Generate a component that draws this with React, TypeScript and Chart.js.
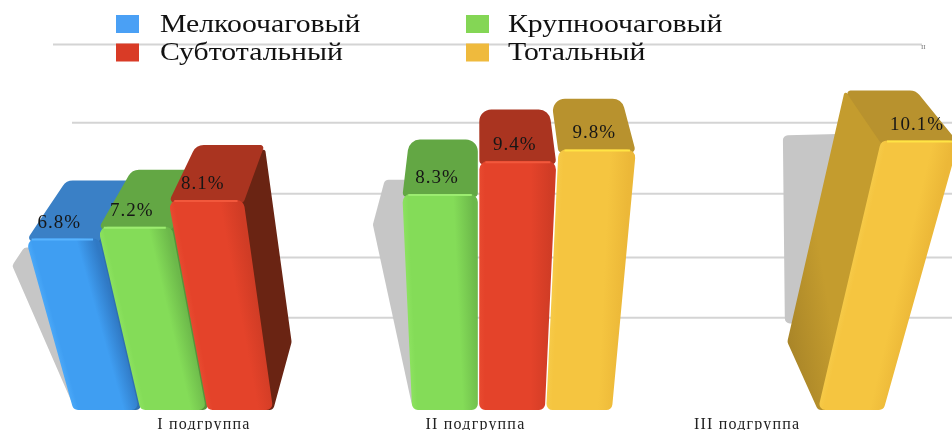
import React, { useEffect, useRef } from "react";
import { Chart, registerables } from "chart.js";

Chart.register(...registerables);

const categories = ["I подгруппа", "II подгруппа", "III подгруппа"];
const melko = [6.8, null, null];
const krupno = [7.2, 8.3, null];
const subtotal = [8.1, 9.4, null];
const total = [null, 9.8, 10.1];
const gridValues = [11.78, 8.92, 6.32, 3.98, 1.78];

const FONT = '"Liberation Serif", "Times New Roman", serif';

type Palette = { main: string; light: string; edge: string; top: string; side: string; sideLight: string; hi: string };
const PAL: Record<string, Palette> = {
  blue: { main: "#3f9ef2", light: "#4aa8f8", edge: "#3079c4", top: "#3a80c6", side: "#2f70b0", sideLight: "#3479bd", hi: "#58b4ff" },
  green: { main: "#84dc58", light: "#8ce25f", edge: "#6cb84a", top: "#63a744", side: "#56953a", sideLight: "#5ea040", hi: "#9cec70" },
  red: { main: "#e4432a", light: "#e84a30", edge: "#d03c25", top: "#aa3420", side: "#6a2413", sideLight: "#6f2616", hi: "#f2583c" },
  yellow: { main: "#f5c540", light: "#f6ca48", edge: "#ecb838", top: "#b8922e", side: "#a98528", sideLight: "#c49c2e", hi: "#ffe445" },
};
const PAL_KEYS = ["blue", "green", "red", "yellow"];

// perspective parameters of the 3D look (vanishing column, taper per pixel of height, depth)
const VX = 478;
const TAPER = 0.00069;
const BACK = 0.91;
const BACK_BASE_RISE = 68;

type Pt = [number, number];

function poly(ctx: CanvasRenderingContext2D, pts: Pt[], radii: number[]) {
  const n = pts.length;
  const mid = (a: Pt, b: Pt): Pt => [(a[0] + b[0]) / 2, (a[1] + b[1]) / 2];
  const s = mid(pts[n - 1], pts[0]);
  ctx.beginPath();
  ctx.moveTo(s[0], s[1]);
  for (let i = 0; i < n; i++) {
    const p = pts[i];
    const q = pts[(i + 1) % n];
    ctx.arcTo(p[0], p[1], q[0], q[1], radii[i]);
  }
  ctx.closePath();
}

function geom(left: number, right: number, yBack: number, bottom: number) {
  const depth = 58 - (180 - yBack) * 0.088;
  const yFront = yBack + depth;
  const h = bottom - yFront;
  const grow = (x: number) => VX + (x - VX) * (1 + TAPER * h);
  const back = (x: number) => VX + (x - VX) * BACK;
  const ftl = grow(left);
  const ftr = grow(right);
  return {
    yFront,
    yBack,
    ftl,
    ftr,
    btl: back(ftl),
    btr: back(ftr),
    bbl: back(left),
    bbr: back(right),
    backBaseY: bottom - BACK_BASE_RISE,
  };
}

const scene3d = {
  id: "scene3d",
  beforeDraw(chart: any) {
    (chart.ctx as any).letterSpacing = "1.2px";
  },
  beforeDatasetsDraw(chart: any) {
    const { ctx, chartArea, width } = chart;
    const yScale = chart.scales.y;
    const bottom = chartArea.bottom;
    (ctx as any).letterSpacing = "0px";

    // grid lines
    ctx.save();
    yScale.ticks.forEach((t: any) => {
      const y = yScale.getPixelForValue(t.value);
      const isTop = t.value === gridValues[0];
      const x0 = isTop ? chartArea.left - 18 : chartArea.left + 1;
      const x1 = isTop ? chartArea.right + 36 : width;
      ctx.strokeStyle = "#d4d4d4";
      ctx.lineWidth = 2;
      ctx.beginPath();
      ctx.moveTo(x0, y);
      ctx.lineTo(x1, y);
      ctx.stroke();
    });
    ctx.restore();

    // soft floor shadows behind the first bar of every group
    const seen = new Set<number>();
    ctx.save();
    ctx.fillStyle = "#c6c6c6";
    chart.data.datasets.forEach((ds: any, di: number) => {
      const meta = chart.getDatasetMeta(di);
      meta.data.forEach((el: any, idx: number) => {
        if (ds.data[idx] == null || seen.has(idx)) return;
        seen.add(idx);
        const left = el.x - el.width / 2;
        const leftOfV = left < VX;
        const sx = left - 35 - Math.max(0, VX - left) * 0.065;
        const pts: Pt[] = leftOfV
          ? [
              [left, bottom - 4],
              [sx, el.y + 85],
              [sx + 12, el.y + 35 + (32 * (VX - left)) / 405],
              [left + 40, el.y + 35 + (32 * (VX - left)) / 405],
              [left + 40, bottom - 4],
            ]
          : [
              [sx + 2, el.y + 233],
              [sx, el.y + 45],
              [left + 45, el.y + 43],
              [left + 45, el.y + 233],
            ];
        poly(ctx, pts, pts.map(() => 5));
        ctx.fill();
      });
    });
    ctx.restore();

    // bars
    chart.data.datasets.forEach((ds: any, di: number) => {
      const meta = chart.getDatasetMeta(di);
      const pal = PAL[PAL_KEYS[di]];
      meta.data.forEach((el: any, idx: number) => {
        if (ds.data[idx] == null) return;
        const l = el.x - el.width / 2;
        const r = el.x + el.width / 2;
        const g = geom(l, r, el.y, bottom);
        const rightSide = r < VX - 100;
        const leftSide = l > VX + 100;

        // side face
        if (rightSide) {
          ctx.fillStyle = pal.side;
          poly(
            ctx,
            [
              [g.ftr - 6, g.yFront],
              [g.btr, g.yBack],
              [g.bbr, g.backBaseY],
              [r, bottom],
              [r - 12, bottom],
            ],
            [2, 2, 6, 5, 2]
          );
          ctx.fill();
        } else if (leftSide) {
          poly(
            ctx,
            [
              [g.ftl + 6, g.yFront],
              [g.btl, g.yBack],
              [g.bbl, g.backBaseY],
              [l, bottom],
              [l + 12, bottom],
            ],
            [2, 2, 6, 5, 2]
          );
          const grad = ctx.createLinearGradient(g.bbl, g.backBaseY, l + 16, g.backBaseY - 8);
          grad.addColorStop(0, pal.side);
          grad.addColorStop(1, pal.sideLight);
          ctx.fillStyle = grad;
          ctx.fill();
        }

        // top face
        ctx.fillStyle = pal.top;
        poly(
          ctx,
          [
            [g.btl, g.yBack],
            [g.btr, g.yBack],
            [g.ftr, g.yFront + 3],
            [g.ftl, g.yFront + 3],
          ],
          [leftSide ? 3 : 12, rightSide ? 3 : 12, 4, 4]
        );
        ctx.fill();

        // front face with a shading across its width
        const ex = g.ftl - l;
        const ey = g.yFront - bottom;
        const len = Math.hypot(ex, ey);
        const nx = -ey / len;
        const ny = ex / len;
        const midW = ((g.ftr - g.ftl + (r - l)) / 2) * Math.abs(nx);
        const mx = (g.ftl + l) / 2;
        const my = (g.yFront + bottom) / 2;
        const grad = ctx.createLinearGradient(mx, my, mx + nx * midW, my + ny * midW);
        grad.addColorStop(0, pal.light);
        grad.addColorStop(0.08, pal.main);
        grad.addColorStop(0.72, pal.main);
        grad.addColorStop(1, pal.edge);
        ctx.fillStyle = grad;
        poly(
          ctx,
          [
            [g.ftl, g.yFront],
            [g.ftr, g.yFront],
            [r, bottom],
            [l, bottom],
          ],
          [8, 8, 6, 6]
        );
        ctx.fill();

        // highlight along the top front edge
        ctx.strokeStyle = pal.hi;
        ctx.lineWidth = 2;
        ctx.beginPath();
        ctx.moveTo(g.ftl + 6, g.yFront + 1);
        ctx.lineTo(g.ftr - 6, g.yFront + 1);
        ctx.stroke();
      });
    });
    (ctx as any).letterSpacing = "1.2px";
  },
  afterDatasetsDraw(chart: any) {
    const { ctx, chartArea } = chart;
    const bottom = chartArea.bottom;
    ctx.save();
    // value labels on the top faces
    ctx.fillStyle = "#161616";
    ctx.font = `19px ${FONT}`;
    (ctx as any).letterSpacing = "1px";
    ctx.textAlign = "center";
    ctx.textBaseline = "middle";
    chart.data.datasets.forEach((ds: any, di: number) => {
      chart.getDatasetMeta(di).data.forEach((el: any, idx: number) => {
        const v = ds.data[idx];
        if (v == null) return;
        const g = geom(el.x - el.width / 2, el.x + el.width / 2, el.y, bottom);
        const label = `${v.toFixed(1)}%`;
        ctx.fillText(label, (g.ftl + g.ftr) / 2 - 3, g.yFront - 16);
      });
    });
    (ctx as any).letterSpacing = "0px";

    // legend in two columns, two rows
    const cols = [116, 466];
    const textOffsets = [44, 42];
    const rows = [24, 52.5];
    ctx.textAlign = "left";
    ctx.font = `25px ${FONT}`;
    chart.data.datasets.forEach((ds: any, di: number) => {
      const x = cols[di % 2];
      const y = rows[Math.floor(di / 2)];
      ctx.fillStyle = ds.legendColor;
      ctx.fillRect(x, y - 9, 23, 18);
      ctx.fillStyle = "#111";
      ctx.save();
      ctx.translate(x + textOffsets[di % 2], y + 1);
      ctx.scale(1.19, 1);
      ctx.fillText(ds.label, 0, 0);
      ctx.restore();
    });

    // small stray mark at the end of the top rule
    ctx.font = `7px ${FONT}`;
    ctx.fillStyle = "#777";
    ctx.fillText("II", 921, 47);
    ctx.restore();
  },
};

export default function App() {
  const ref = useRef<HTMLCanvasElement>(null);
  useEffect(() => {
    document.body.style.margin = "0";
    const chart = new Chart(ref.current as HTMLCanvasElement, {
      type: "bar",
      data: {
        labels: categories,
        datasets: [
          { label: "Мелкоочаговый", data: melko, backgroundColor: "rgba(0,0,0,0)", legendColor: "#4aa0f5" },
          { label: "Крупноочаговый", data: krupno, backgroundColor: "rgba(0,0,0,0)", legendColor: "#84d655" },
          { label: "Субтотальный", data: subtotal, backgroundColor: "rgba(0,0,0,0)", legendColor: "#d93b26" },
          { label: "Тотальный", data: total, backgroundColor: "rgba(0,0,0,0)", legendColor: "#efba3d" },
        ] as any,
      },
      options: {
        animation: false,
        responsive: false,
        layout: { padding: { left: 71, right: 66, top: 44, bottom: 0 } },
        datasets: { bar: { categoryPercentage: 0.987, barPercentage: 0.98 } },
        plugins: { legend: { display: false }, tooltip: { enabled: false } },
        scales: {
          x: {
            grid: { display: false, drawTicks: false },
            border: { display: false },
            afterFit(scale: any) {
              scale.height = 20;
            },
            ticks: {
              color: "#222",
              padding: 5,
              maxRotation: 0,
              labelOffset: -3,
              font: { family: FONT, size: 16 },
            },
          },
          y: {
            display: true,
            min: -1.6,
            max: 11.8,
            afterFit(scale: any) {
              scale.width = 0;
            },
            afterBuildTicks(scale: any) {
              scale.ticks = gridValues.map((value) => ({ value }));
            },
            grid: { display: false },
            border: { display: false },
            ticks: { display: false },
          },
        },
      } as any,
      plugins: [scene3d],
    });
    return () => chart.destroy();
  }, []);
  return (
    <canvas
      ref={ref}
      width={952}
      height={430}
      style={{ display: "block", width: 952, height: 430, filter: "blur(0.6px)" }}
    />
  );
}
